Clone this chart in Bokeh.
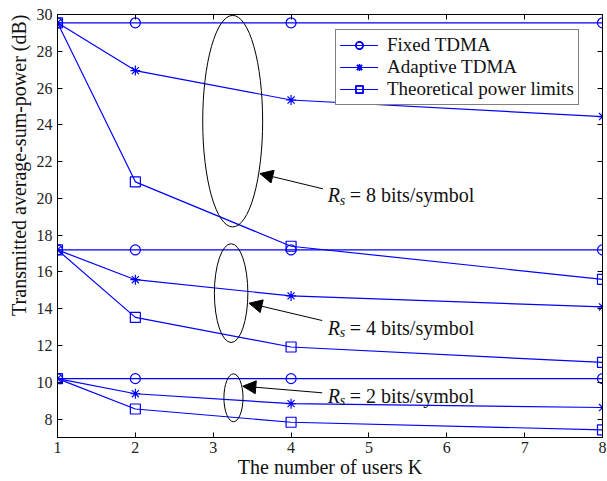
import math
from bokeh.plotting import figure
from bokeh.models import Range1d, LinearAxis, FixedTicker, Label, Arrow, NormalHead, Title
from bokeh.embed import file_html
from bokeh.resources import INLINE

# ---------------- data ----------------
users = [1, 2, 4, 8]
x_ticks = [1, 2, 3, 4, 5, 6, 7, 8]
y_ticks = [8, 10, 12, 14, 16, 18, 20, 22, 24, 26, 28, 30]

fixed_8 = [29.55, 29.55, 29.55, 29.55]
adaptive_8 = [29.55, 26.95, 25.35, 24.45]
theory_8 = [29.55, 20.9, 17.4, 15.6]

fixed_4 = [17.2, 17.2, 17.2, 17.2]
adaptive_4 = [17.2, 15.58, 14.7, 14.1]
theory_4 = [17.2, 13.53, 11.92, 11.08]

fixed_2 = [10.2, 10.2, 10.2, 10.2]
adaptive_2 = [10.2, 9.38, 8.84, 8.63]
theory_2 = [10.2, 8.55, 7.83, 7.42]

series_names = ["Fixed TDMA", "Adaptive TDMA", "Theoretical power limits"]
rate_labels = ["= 8 bits/symbol", "= 4 bits/symbol", "= 2 bits/symbol"]
x_title = "The number of users K"
y_title = "Transmitted average-sum-power (dB)"

# ---------------- annotation layout ----------------
ell_x = [3.25, 3.23, 3.26]
ell_y = [24.2, 14.85, 9.16]
ell_w = [0.77, 0.43, 0.245]
ell_h = [11.5, 5.37, 2.6]
arrow_tail = [(4.41, 20.52), (4.40, 13.36), (4.40, 9.43)]
arrow_tip = [(3.60, 21.35), (3.46, 14.30), (3.38, 9.79)]
label_pos = [(4.47, 20.16), (4.47, 12.97), (4.47, 9.27)]

FONT = "Liberation Serif"
BLUE = "#0000ff"
TXT = "#111111"

p = figure(width=607, height=481, x_range=Range1d(1, 8), y_range=Range1d(7, 30),
           output_backend="svg", toolbar_location=None,
           min_border_left=57, min_border_right=5, min_border_top=14, min_border_bottom=44)
p.grid.visible = False
p.outline_line_color = "black"
p.background_fill_color = "white"
p.border_fill_color = "white"

bottom_axis = p.xaxis[0]
left_axis = p.yaxis[0]

def style_axis(ax, ticks, show_labels, standoff):
    ax.ticker = FixedTicker(ticks=ticks)
    ax.minor_tick_line_color = None
    ax.major_tick_in = 5
    ax.major_tick_out = 0
    ax.axis_line_color = "black"
    ax.major_tick_line_color = "black"
    ax.major_label_standoff = standoff
    if show_labels:
        ax.major_label_text_font = FONT
        ax.major_label_text_font_style = "normal"
        ax.major_label_text_font_size = "16px"
        ax.major_label_text_color = "#222222"
    else:
        ax.major_label_text_font_size = "1px"
        ax.major_label_text_color = None

style_axis(bottom_axis, x_ticks, True, 4)
style_axis(left_axis, y_ticks, True, 5)
top = LinearAxis()
style_axis(top, x_ticks, False, 0)
p.add_layout(top, "above")
right = LinearAxis()
style_axis(right, y_ticks, False, 0)
p.add_layout(right, "right")

bottom_axis.axis_label = x_title
bottom_axis.axis_label_text_font = FONT
bottom_axis.axis_label_text_font_size = "20px"
bottom_axis.axis_label_text_font_style = "normal"
bottom_axis.axis_label_text_color = TXT
bottom_axis.axis_label_standoff = 0

groups = [(fixed_8, adaptive_8, theory_8), (fixed_4, adaptive_4, theory_4), (fixed_2, adaptive_2, theory_2)]
markers = ["circle", "asterisk", "square"]
for grp in groups:
    for name, vals, mk in zip(series_names, grp, markers):
        p.line(users, vals, line_color=BLUE, line_width=1.2, legend_label=name)
        p.scatter(users, vals, marker=mk, size=10, line_color=BLUE, fill_color=None,
                  line_width=1.2, legend_label=name)

p.ellipse(x=ell_x, y=ell_y, width=ell_w, height=ell_h, fill_color=None,
          line_color="black", line_width=1)

for (xs, ys), (xe, ye) in zip(arrow_tail, arrow_tip):
    p.add_layout(Arrow(x_start=xs, y_start=ys, x_end=xe, y_end=ye, line_width=1,
                       line_color="black",
                       end=NormalHead(size=13, fill_color="black", line_color="black")))

for (lx, ly), txt in zip(label_pos, rate_labels):
    p.add_layout(Label(x=lx, y=ly, text="R", text_font=FONT, text_font_size="20px",
                       text_font_style="italic", text_baseline="alphabetic", text_color=TXT))
    p.add_layout(Label(x=lx, y=ly, x_offset=12, y_offset=-5, text="s", text_font=FONT,
                       text_font_size="14px", text_font_style="italic",
                       text_baseline="alphabetic", text_color=TXT))
    p.add_layout(Label(x=lx, y=ly, x_offset=22, text=txt, text_font=FONT,
                       text_font_size="20px", text_baseline="alphabetic", text_color=TXT))

# y axis title
yt = Title(text=y_title, align="right", offset=0,
           text_font=FONT, text_font_size="20px", text_font_style="normal",
           text_color=TXT, standoff=8)
p.add_layout(yt, "left")

lg = p.legend[0]
lg.location = (278, 332)
lg.label_text_font = FONT
lg.label_text_font_size = "19px"
lg.label_text_color = TXT
lg.glyph_width = 38
lg.glyph_height = 18
lg.label_height = 18
lg.label_standoff = 9
lg.padding = 4
lg.spacing = 0
lg.margin = 0
lg.border_line_color = "black"
lg.border_line_width = 1.5
lg.background_fill_color = "white"
lg.background_fill_alpha = 1.0

open("out.html", "w").write(file_html(p, INLINE))
